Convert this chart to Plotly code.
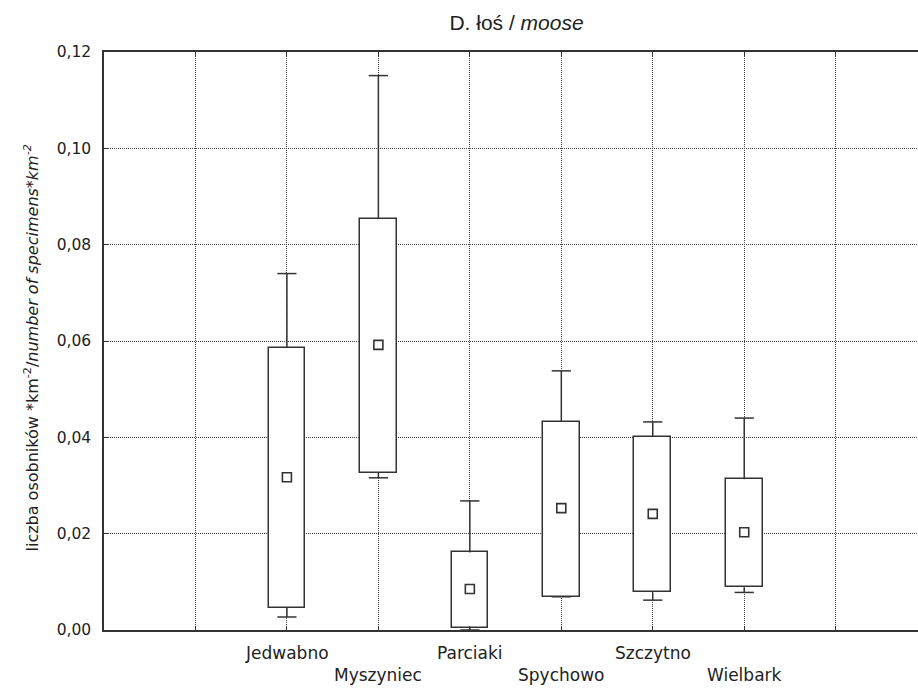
import plotly.graph_objects as go

# ---- data ----
categories = ["Jedwabno", "Myszyniec", "Parciaki", "Spychowo", "Szczytno", "Wielbark"]
whisker_max = [0.0740, 0.1151, 0.0268, 0.0538, 0.0432, 0.0440]
box_q3      = [0.0586, 0.0853, 0.0161, 0.0432, 0.0401, 0.0313]
median      = [0.0317, 0.0592, 0.0085, 0.0253, 0.0241, 0.0203]
box_q1      = [0.0046, 0.0327, 0.0004, 0.0069, 0.0078, 0.0089]
whisker_min = [0.0027, 0.0316, 0.0000, 0.0069, 0.0062, 0.0078]
y_ticks = [0.0, 0.02, 0.04, 0.06, 0.08, 0.10, 0.12]

FONT = "DejaVu Sans, Verdana, sans-serif"
TFONT = "Liberation Sans, Arial, sans-serif"
INK = "#333333"
TXT = "#222222"
GRID = "#444444"

xpos = [i + 1 for i in range(len(categories))]
cap = 0.105

# whiskers + caps
wx, wy = [], []
for x, lo, q1, q3, hi in zip(xpos, whisker_min, box_q1, box_q3, whisker_max):
    wx += [x, x, None, x - cap, x + cap, None, x, x, None, x - cap, x + cap, None]
    wy += [q3, hi, None, hi, hi, None, q1, lo, None, lo, lo, None]

fig = go.Figure()
fig.add_trace(go.Bar(
    x=xpos, y=[b - a for a, b in zip(box_q1, box_q3)], base=box_q1,
    width=0.4, marker=dict(color="white", line=dict(color=INK, width=1.5)),
    showlegend=False, hoverinfo="skip"))
fig.add_trace(go.Scatter(
    x=wx, y=wy, mode="lines", line=dict(color=INK, width=1.5),
    showlegend=False, hoverinfo="skip", cliponaxis=False))
fig.add_trace(go.Scatter(
    x=xpos, y=median, mode="markers",
    marker=dict(symbol="square-open", size=9, color=INK, line=dict(width=1.6, color=INK)),
    showlegend=False))

ann = []
for i, (x, name) in enumerate(zip(xpos, categories)):
    ann.append(dict(x=x, y=-0.040 if i % 2 == 0 else -0.078, xref="x", yref="paper",
                    text=name, showarrow=False, xanchor="center", yanchor="middle",
                    font=dict(family=FONT, size=17, color=TXT)))
ann.append(dict(x=-72 / 814, y=0.487, xref="paper", yref="paper", textangle=-90,
                text="liczba osobników *km<sup>-2</sup>/<i>number of specimens*km<sup>-2</sup></i>",
                showarrow=False, xanchor="center", yanchor="middle",
                font=dict(family=FONT, size=16, color=TXT)))

fig.update_layout(
    width=918, height=688,
    margin=dict(l=104, r=0, t=52, b=58),
    paper_bgcolor="white", plot_bgcolor="white",
    separators=",.",
    title=dict(text="D. łoś / <i>moose</i>", x=516.5 / 918, xanchor="center",
               y=1 - 23 / 688, yanchor="middle",
               font=dict(family=TFONT, size=21, color=TXT)),
    font=dict(family=FONT, size=15, color=TXT),
    annotations=ann,
    bargap=0,
)
fig.update_xaxes(
    range=[-1, 7.9], tickvals=list(range(0, len(categories) + 2)),
    showticklabels=False, showgrid=True, gridcolor=GRID, griddash="1px,1px", gridwidth=1,
    zeroline=False, showline=True, linecolor=INK, linewidth=1.5, mirror="allticks",
    ticks="inside", ticklen=4, tickcolor=INK)
fig.update_yaxes(
    range=[0, 0.12], tickvals=y_ticks, tickformat=".2f",
    showgrid=True, gridcolor=GRID, griddash="1px,1px", gridwidth=1,
    zeroline=False, showline=True, linecolor=INK, linewidth=1.5,
    ticks="inside", ticklen=4, tickcolor=INK, ticklabelstandoff=8,
    tickfont=dict(family=FONT, size=15.5, color=TXT))

fig.write_html("out.html")
